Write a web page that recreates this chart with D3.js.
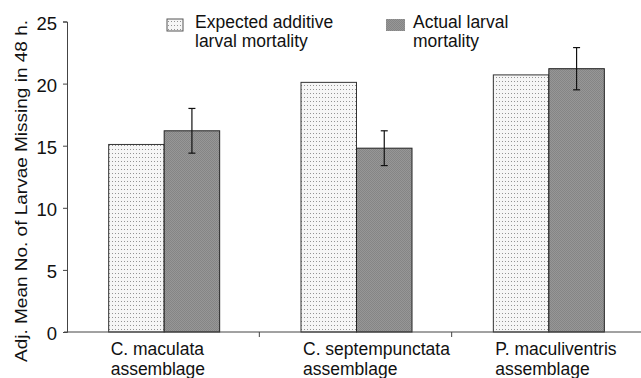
<!DOCTYPE html>
<html>
<head>
<meta charset="utf-8">
<script src="https://cdn.jsdelivr.net/npm/d3@7"></script>
<style>
  body { margin: 0; background: #fff; }
  text { font-family: "Liberation Sans", Arial, sans-serif; fill: #111; }
</style>
</head>
<body>
<svg></svg>
<script>

var categories = ["C. maculata", "C. septempunctata", "P. maculiventris"]
var catSuffix = "assemblage"
var expected = [15.1, 20.1, 20.7]
var actual = [16.2, 14.8, 21.2]
var actualErr = [1.8, 1.4, 1.7]
var yTicks = [0, 5, 10, 15, 20, 25]
var legendLabels = [["Expected additive", "larval mortality"], ["Actual larval", "mortality"]]
var yTitle = "Adj. Mean No. of Larvae Missing in 48 h."

var width = 641;
var height = 378;

var svg = d3.select("svg")
  .attr("width", width)
  .attr("height", height)

// fill patterns, dotted for expected, dark dither for actual
var defs = svg.append("defs")
var dots = defs.append("pattern")
  .attr("id", "dots")
  .attr("patternUnits", "userSpaceOnUse")
  .attr("width", 3).attr("height", 4)
dots.append("rect").attr("width", 3).attr("height", 4).attr("fill", "#f6f6f6")
dots.append("rect").attr("x", 1).attr("y", 1).attr("width", 1).attr("height", 1).attr("fill", "#939393")

var dark = defs.append("pattern")
  .attr("id", "dark")
  .attr("patternUnits", "userSpaceOnUse")
  .attr("width", 2).attr("height", 2)
dark.append("rect").attr("width", 2).attr("height", 2).attr("fill", "#979797")
dark.append("rect").attr("width", 1).attr("height", 1).attr("fill", "#858585")
dark.append("rect").attr("x", 1).attr("y", 1).attr("width", 1).attr("height", 1).attr("fill", "#858585")

var xScale = d3.scaleBand()
  .domain(categories)
  .range([67, 644])

var yScale = d3.scaleLinear()
  .domain([0, 25])
  .range([332, 21.5])

var barW = 55.5;

// y axis
var yAxis = d3.axisLeft(yScale)
  .tickValues(yTicks)
  .tickSize(4)
  .tickPadding(6)

var gy = svg.append("g")
  .attr("transform", "translate(67,0)")
  .call(yAxis)
gy.select(".domain").attr("stroke", "#444")
gy.selectAll(".tick line").attr("stroke", "#444")
gy.selectAll(".tick text")
  .attr("font-size", 18.5)
  .attr("dy", "0.42em")
  .attr("font-family", "Liberation Sans, Arial, sans-serif")
  .attr("fill", "#111")

// bars
var center = function(d) { return xScale(d) + xScale.bandwidth() / 2 + 1; }

svg.selectAll(".expected")
  .data(categories)
  .enter()
  .append("rect")
  .attr("class", "expected")
  .attr("x", function(d) { return center(d) - barW; })
  .attr("y", function(d, i) { return yScale(expected[i]); })
  .attr("width", barW)
  .attr("height", function(d, i) { return yScale(0) - yScale(expected[i]); })
  .attr("fill", "url(#dots)")
  .attr("stroke", "#333")
  .attr("stroke-width", 1)

svg.selectAll(".actual")
  .data(categories)
  .enter()
  .append("rect")
  .attr("class", "actual")
  .attr("x", function(d) { return center(d); })
  .attr("y", function(d, i) { return yScale(actual[i]); })
  .attr("width", barW)
  .attr("height", function(d, i) { return yScale(0) - yScale(actual[i]); })
  .attr("fill", "url(#dark)")
  .attr("stroke", "#222")
  .attr("stroke-width", 1)

// error bars
var err = svg.selectAll(".err")
  .data(categories)
  .enter()
  .append("g")
  .attr("class", "err")
  .attr("stroke", "#111")
  .attr("stroke-width", 1.2)

err.append("line")
  .attr("x1", function(d) { return center(d) + barW / 2; })
  .attr("x2", function(d) { return center(d) + barW / 2; })
  .attr("y1", function(d, i) { return yScale(actual[i] + actualErr[i]); })
  .attr("y2", function(d, i) { return yScale(actual[i] - actualErr[i]); })
err.append("line")
  .attr("x1", function(d) { return center(d) + barW / 2 - 3.5; })
  .attr("x2", function(d) { return center(d) + barW / 2 + 3.5; })
  .attr("y1", function(d, i) { return yScale(actual[i] + actualErr[i]); })
  .attr("y2", function(d, i) { return yScale(actual[i] + actualErr[i]); })
err.append("line")
  .attr("x1", function(d) { return center(d) + barW / 2 - 3.5; })
  .attr("x2", function(d) { return center(d) + barW / 2 + 3.5; })
  .attr("y1", function(d, i) { return yScale(actual[i] - actualErr[i]); })
  .attr("y2", function(d, i) { return yScale(actual[i] - actualErr[i]); })

// x axis with ticks between the groups
var gx = svg.append("g")
gx.append("line")
  .attr("x1", 64).attr("x2", width)
  .attr("y1", yScale(0)).attr("y2", yScale(0))
  .attr("stroke", "#444")
gx.selectAll(".xtick")
  .data(categories.slice(0, categories.length - 1))
  .enter()
  .append("line")
  .attr("class", "xtick")
  .attr("x1", function(d) { return xScale(d) + xScale.bandwidth(); })
  .attr("x2", function(d) { return xScale(d) + xScale.bandwidth(); })
  .attr("y1", yScale(0)).attr("y2", yScale(0) + 5)
  .attr("stroke", "#444")

// category labels, two lines each
svg.selectAll(".catlabel")
  .data(categories)
  .enter()
  .append("text")
  .attr("class", "catlabel")
  .attr("font-size", 17.5)
  .attr("x", function(d) { return center(d) - barW + 2; })
  .attr("y", 355)
  .text(function(d) { return d; })

svg.selectAll(".catsuffix")
  .data(categories)
  .enter()
  .append("text")
  .attr("class", "catsuffix")
  .attr("font-size", 17.5)
  .attr("x", function(d) { return center(d) - barW + 2; })
  .attr("y", 375)
  .text(catSuffix)

// y title
svg.append("text")
  .attr("transform", "translate(27,191) rotate(-90)")
  .attr("text-anchor", "middle")
  .attr("font-size", 17)
  .attr("textLength", 342)
  .attr("lengthAdjust", "spacingAndGlyphs")
  .text(yTitle)

// legend
var legendX = [167, 386]
var legendFill = ["url(#dots)", "url(#dark)"]
var legend = svg.selectAll(".legend")
  .data(legendLabels)
  .enter()
  .append("g")
  .attr("class", "legend")
  .attr("transform", function(d, i) { return "translate(" + legendX[i] + ",0)"; })

legend.append("rect")
  .attr("x", 0).attr("y", 19)
  .attr("width", function(d, i) { return i == 0 ? 16 : 19; })
  .attr("height", 12)
  .attr("fill", function(d, i) { return legendFill[i]; })
  .attr("stroke", function(d, i) { return i == 0 ? "#555" : "none"; })

legend.append("text")
  .attr("font-size", 17.5)
  .attr("x", function(d, i) { return i == 0 ? 28 : 27; })
  .attr("y", 28)
  .text(function(d) { return d[0]; })
legend.append("text")
  .attr("font-size", 17.5)
  .attr("x", function(d, i) { return i == 0 ? 28 : 27; })
  .attr("y", 47)
  .text(function(d) { return d[1]; })

</script>
</body>
</html>
